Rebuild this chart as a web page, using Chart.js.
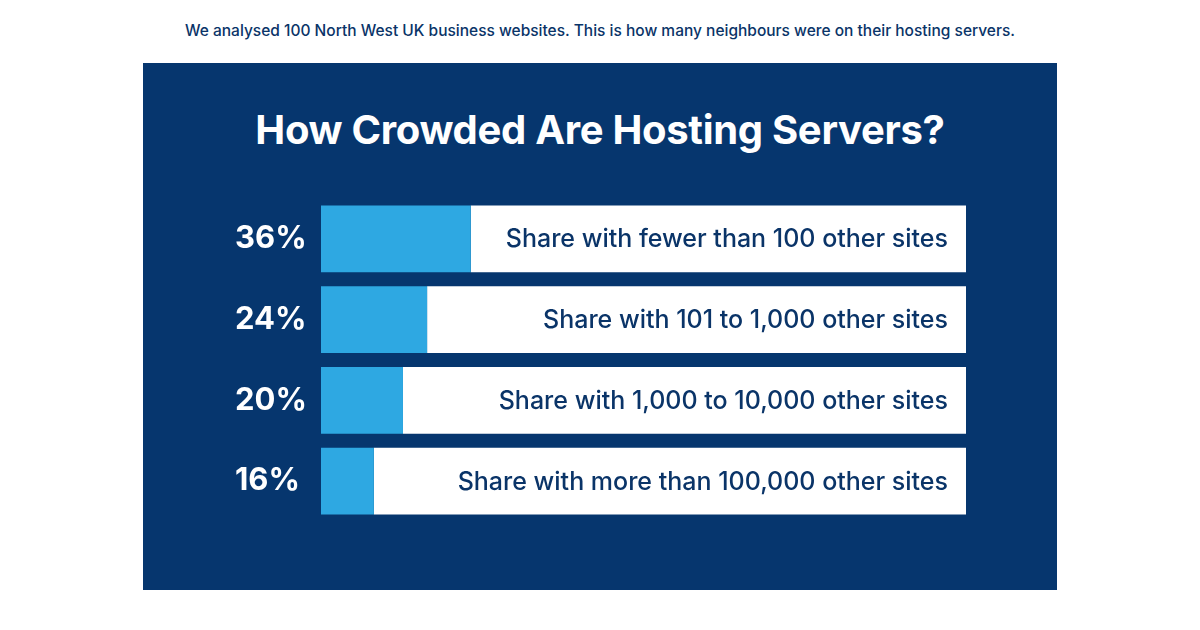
<!DOCTYPE html>
<html><head><meta charset="utf-8">
<script src="https://cdn.jsdelivr.net/npm/chart.js@4"></script>
<style>
html,body{margin:0;padding:0;background:#fff;width:1200px;height:630px;overflow:hidden;font-family:Inter,"Open Sans",sans-serif}
#sub{position:absolute;left:0;width:1200px;top:21px;text-align:center;color:#0A3468;font-size:15.5px;font-weight:500}
#panel{position:absolute;left:143px;top:63px;width:914px;height:527px;background:#06366E}
#title{position:absolute;left:0;width:914px;top:42px;text-align:center;color:#fff;font-size:40px;font-weight:700;letter-spacing:-0.3px}
#wrap{position:absolute;left:0;top:117px;width:914px;height:360px}
</style></head><body>
<div id="sub">We analysed 100 North West UK business websites. This is how many neighbours were on their hosting servers.</div>
<div id="panel"><div id="title">How Crowded Are Hosting Servers?</div><div id="wrap"><canvas id="c"></canvas></div></div>
<script>
const percentLabels = ["36%","24%","20%","16%"];
const barTexts = ["Share with fewer than 100 other sites","Share with 101 to 1,000 other sites","Share with 1,000 to 10,000 other sites","Share with more than 100,000 other sites"];
const values = [36,25.5,19.7,12.7];
const axisMax = 155;
const track = values.map(v => axisMax - v);

const textPlugin = {id:'txt', afterDatasetsDraw(chart){
  const ctx = chart.ctx, meta = chart.getDatasetMeta(1);
  ctx.save();
  ctx.font = '500 25px Inter, "Open Sans", sans-serif';
  ctx.fillStyle = '#0A3468'; ctx.textAlign='right'; ctx.textBaseline='middle';
  meta.data.forEach((b,i)=>ctx.fillText(barTexts[i], chart.chartArea.right-18, b.y+1));
  ctx.restore();
}};
new Chart(document.getElementById('c'),{
  type:'bar',
  data:{labels:percentLabels,datasets:[
    {data:values,backgroundColor:'#2EA8E2',borderWidth:0},
    {data:track,backgroundColor:'#FFFFFF',borderWidth:0}]},
  options:{indexAxis:'y',responsive:true,maintainAspectRatio:false,animation:false,
    barPercentage:0.826,categoryPercentage:1,
    layout:{padding:{left:92,right:91,top:8.5,bottom:7.5}},
    plugins:{legend:{display:false},tooltip:{enabled:false}},
    scales:{
      x:{stacked:true,min:0,max:axisMax,display:false},
      y:{stacked:true,grid:{display:false},border:{display:false},
        afterFit(s){s.width=86;},
        ticks:{color:'#fff',crossAlign:'far',padding:0,font:{size:31,weight:'bold',family:'Inter, "Open Sans", sans-serif'}}}
    }},
  plugins:[textPlugin]
});
</script></body></html>
